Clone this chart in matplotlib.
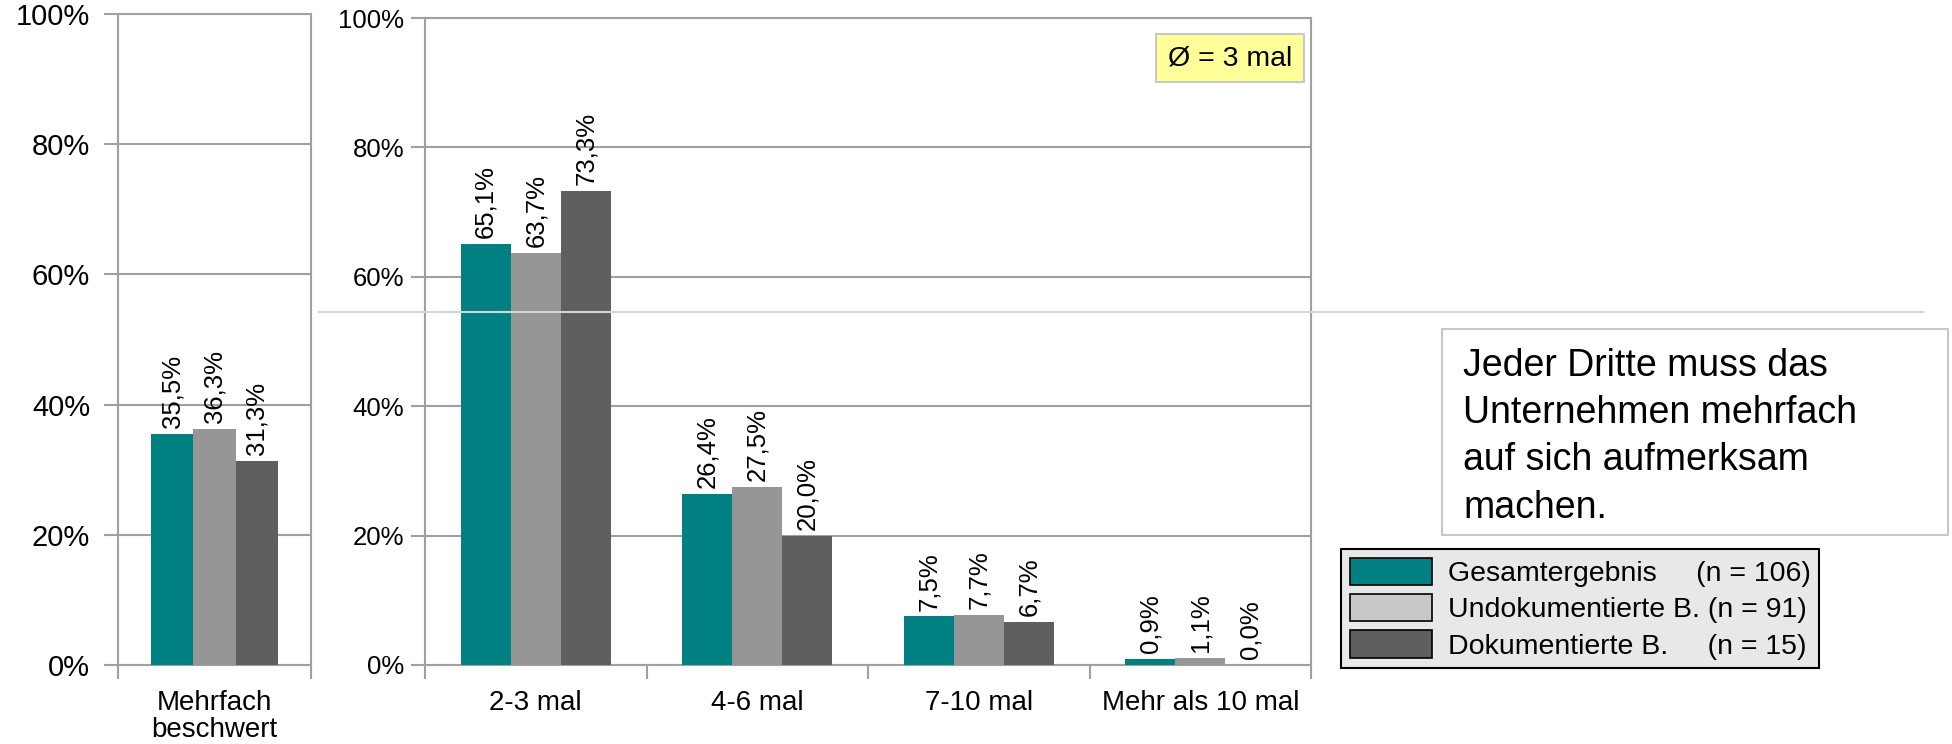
import matplotlib
matplotlib.use("Agg")
import matplotlib.pyplot as plt
import numpy as np
from matplotlib.patches import Patch, Rectangle
from matplotlib.lines import Line2D

plt.rcParams['font.family'] = ['Liberation Sans', 'DejaVu Sans']

# Daten
kat_links = ["Mehrfach\nbeschwert"]
links_gesamt = [35.5]
links_undok = [36.3]
links_dok = [31.3]

kat_rechts = ["2-3 mal", "4-6 mal", "7-10 mal", "Mehr als 10 mal"]
gesamt = [65.1, 26.4, 7.5, 0.9]
undok = [63.7, 27.5, 7.7, 1.1]
dok = [73.3, 20.0, 6.7, 0.0]

legende = ["Gesamtergebnis     (n = 106)",
           "Undokumentierte B. (n = 91)",
           "Dokumentierte B.     (n = 15)"]

farben = ["#008080", "#969696", "#5f5f5f"]
farben_legende = ["#008080", "#c8c8c8", "#5f5f5f"]
grid_col = "#a0a0a0"

W, H = 1952, 744
fig = plt.figure(figsize=(W / 100, H / 100), dpi=100)

def fx(px):
    return px / W

def fy(py):
    return 1 - py / H

ax1 = fig.add_axes([fx(118), fy(665), fx(311) - fx(118), fy(14) - fy(665)])
ax2 = fig.add_axes([fx(425), fy(665), fx(1311) - fx(425), fy(18) - fy(665)])


def zeichne(ax, kats, reihen, breite, tick_fs, pad):
    x = np.arange(len(kats))
    for i, (werte, farbe) in enumerate(zip(reihen, farben)):
        pos = x + (i - 1) * breite
        ax.bar(pos, werte, breite, color=farbe, zorder=3)
        for p, v in zip(pos, werte):
            ax.text(p, v + 0.9, f"{v:.1f}%".replace(".", ","), rotation=90,
                    ha="center", va="bottom", fontsize=18.5, zorder=4)
    ax.set_xlim(-0.5, len(kats) - 0.5)
    ax.set_ylim(0, 100)
    ax.set_yticks(np.arange(0, 101, 20))
    ax.set_yticklabels([f"{v}%" for v in range(0, 101, 20)], fontsize=tick_fs)
    ax.set_xticks(x)
    ax.set_xticklabels(kats, fontsize=20, linespacing=1.05)
    ax.set_xticks(np.arange(-0.5, len(kats), 1), minor=True)
    ax.tick_params(axis="x", which="major", length=0, pad=18)
    ax.tick_params(axis="x", which="minor", length=10, width=1.5, color=grid_col)
    ax.tick_params(axis="y", length=10, width=1.5, color=grid_col, pad=pad)
    ax.grid(axis="y", color=grid_col, linewidth=1.5, zorder=0)
    for s in ax.spines.values():
        s.set_color(grid_col)
        s.set_linewidth(1.5)


zeichne(ax1, kat_links, [links_gesamt, links_undok, links_dok], 0.22, 21, 10)
zeichne(ax2, kat_rechts, [gesamt, undok, dok], 0.226, 18.5, 5)

# Durchschnitt
fig.text(fx(1230), fy(58), "Ø = 3 mal", fontsize=20.5, ha="center", va="center",
         bbox=dict(boxstyle="square,pad=0.4", fc="#ffff99", ec="#c8c8c8", lw=1.5))

# graue Linie quer
fig.add_artist(Line2D([fx(319), fx(1923)], [fy(312), fy(312)],
                      color="#d4d4d4", lw=1.5, zorder=10))

# Textkasten
fig.add_artist(Rectangle((fx(1442), fy(535)), fx(1948) - fx(1442), fy(329) - fy(535),
                         transform=fig.transFigure, fc="white", ec="#c8c8c8", lw=1.5))
fig.text(fx(1463), fy(348),
         "Jeder Dritte muss das\nUnternehmen mehrfach\nauf sich aufmerksam\nmachen.",
         fontsize=27, ha="left", va="top", linespacing=1.4)

# Legende
handles = [Patch(facecolor=c, edgecolor="black", lw=1.2) for c in farben_legende]
leg = fig.legend(handles, legende, loc="upper left",
                 bbox_to_anchor=(fx(1341), fy(549)), fontsize=20.5,
                 handlelength=2.9, handleheight=1.1, handletextpad=0.55,
                 labelspacing=0.25, borderpad=0.3, borderaxespad=0,
                 fancybox=False, frameon=True)
leg.get_frame().set_facecolor("#e8e8e8")
leg.get_frame().set_edgecolor("black")
leg.get_frame().set_linewidth(1.5)
leg.get_frame().set_alpha(1)

fig.savefig("out.png", dpi=100)
